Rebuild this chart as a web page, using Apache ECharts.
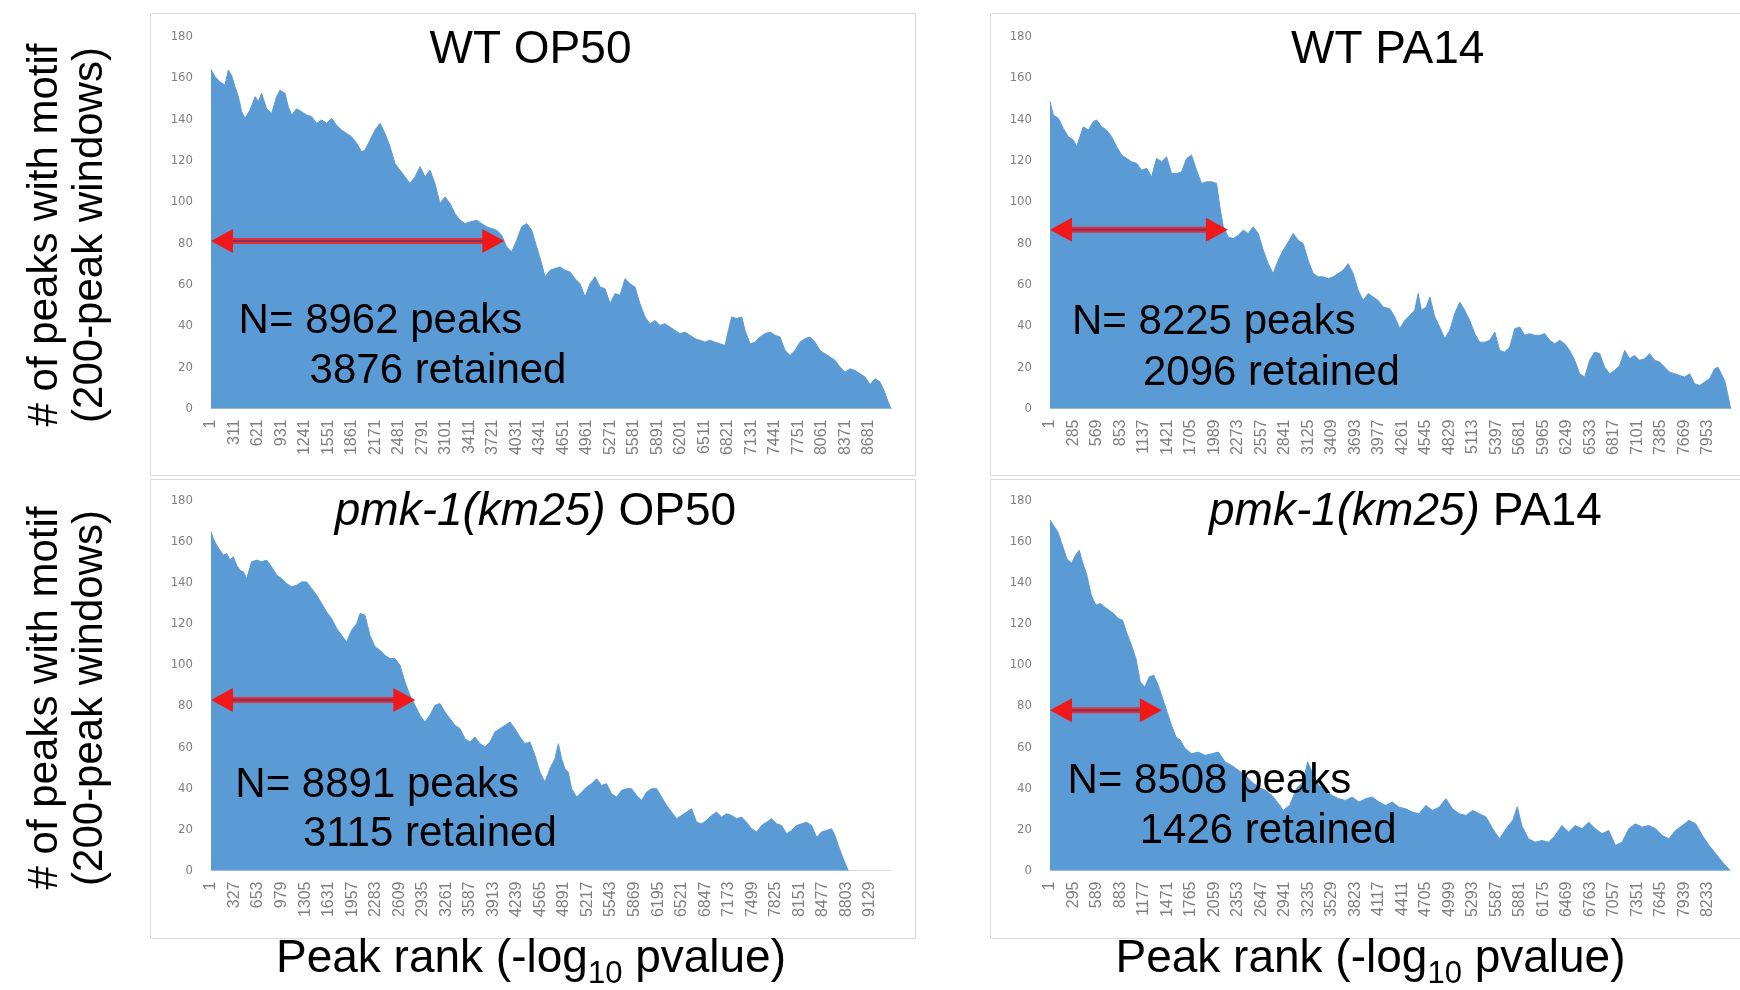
<!DOCTYPE html>
<html>
<head>
<meta charset="utf-8">
<script src="https://cdn.jsdelivr.net/npm/echarts@6/dist/echarts.min.js"></script>
<style>
html,body{margin:0;padding:0;background:#ffffff;}
#c{width:1740px;height:990px;}
</style>
</head>
<body>
<div id="c"></div>
<script>
// ---------------- data ----------------
const strains = ['WT', 'WT', 'pmk-1(km25)', 'pmk-1(km25)'];
const foods = ['OP50', 'PA14', 'OP50', 'PA14'];
const totalPeaks = [8962, 8225, 8891, 8508];
const retainedPeaks = [3876, 2096, 3115, 1426];
const labelStep = [310, 284, 326, 294];      // x tick labels: 1, 1+step, 1+2*step ...
const rankAxisMax = [8985, 8230, 9420, 8520];
const countTicks = [0, 20, 40, 60, 80, 100, 120, 140, 160, 180];
const arrowLevel = [81, 86.5, 83, 78];
const arrowEnd = [3870, 2150, 2830, 1400];

const wtOp50Rank = [0,53,119,185,229,273,317,361,405,449,515,581,625,668,734,800,866,910,976,1020,1064,1130,1196,1262,1328,1394,1460,1526,1592,1658,1724,1790,1856,1922,1988,2032,2098,2164,2230,2296,2362,2428,2494,2560,2626,2692,2758,2824,2890,2955,3021,3087,3153,3219,3285,3351,3417,3505,3571,3637,3703,3769,3835,3901,3967,4033,4099,4165,4231,4297,4363,4407,4473,4539,4605,4671,4737,4803,4869,4935,5001,5067,5133,5199,5265,5331,5397,5463,5529,5594,5660,5726,5792,5858,5924,5990,6056,6122,6188,6254,6320,6386,6452,6518,6584,6650,6716,6782,6826,6870,6936,7002,7046,7112,7178,7244,7310,7376,7442,7508,7574,7640,7706,7771,7837,7903,7969,8035,8101,8167,8233,8299,8365,8431,8496,8563,8629,8695,8761,8827,8880,8935,8970];
const wtOp50Count = [164,160.6,158,156.5,163.8,161,155.7,150.9,143.6,140.4,144.4,150.9,148.5,152.5,145,142.8,150.9,154,152.5,146,142,145,143.6,142,141.2,138,139.6,138,140.4,137,134.7,133.1,131.5,128.3,124.2,125,129.9,134.7,138,133.1,126.7,118.6,115.3,112.1,108.9,112.1,117,112.1,115.3,108.9,99.2,102.4,99.2,94.3,91.1,89.5,90.3,91.1,89.5,87.9,87.1,86.3,83.8,78.2,75.8,81.4,87.9,89.5,86.3,78.2,70.1,63.7,66.9,67.7,68.5,66.9,66.1,62.8,60.4,54,60.4,63.7,58.8,58,50.7,55.6,54.8,62.8,60.4,58.8,50.7,44.3,41,42.6,40.2,41,39.4,37.8,36.2,37,35.4,33.8,33,32.1,33,32.1,31.3,30.5,37.8,44.3,43.5,44.3,37.8,31.3,32.1,34.6,36.2,37,35.4,34.6,28.1,25.7,28.1,32.1,33.8,34.6,32.1,28.1,26.5,24.9,23.3,20,17.6,19.2,18.4,16.8,15.2,11.6,14.4,12.8,8.7,3.1,0];

const wtPa14Rank = [0,40,101,161,221,282,322,362,403,463,523,564,624,684,745,805,866,926,986,1047,1107,1168,1228,1288,1349,1409,1469,1530,1590,1651,1711,1771,1832,1892,1953,2013,2053,2094,2154,2214,2275,2335,2395,2456,2516,2577,2637,2697,2758,2818,2879,2939,2999,3060,3120,3181,3241,3301,3362,3422,3483,3543,3603,3664,3724,3784,3845,3905,3966,4026,4106,4167,4227,4288,4348,4408,4449,4489,4549,4590,4650,4710,4771,4831,4891,4952,5012,5073,5133,5193,5254,5314,5375,5435,5495,5556,5616,5677,5737,5797,5858,5918,5978,6039,6099,6160,6220,6280,6341,6401,6462,6522,6582,6643,6703,6764,6824,6884,6945,7005,7066,7126,7186,7247,7307,7367,7428,7488,7549,7609,7669,7730,7790,7851,7911,7971,8032,8072,8112,8153,8190,8225];
const wtPa14Count = [148.5,142,140.4,135.5,131.5,129.9,126.7,131.5,136.3,134.7,138.8,139.6,136.3,134.7,131.5,126.7,122.6,121,119.4,118.6,115.3,116.2,112.1,121,119.4,121.8,113.7,113.7,114.5,121,122.6,115.3,108.9,109.7,109.7,108.9,97.6,87.9,83,82.2,83.8,86.3,84.7,87.9,84.7,76.6,70.1,65.3,71.7,76.6,80.6,84.7,81.4,79.8,71.7,65.3,63.7,63.7,62.8,63.7,65.3,66.9,70.1,65.3,57.2,52.3,55.6,54,52.3,49.1,48.3,44.3,38.6,42.6,45,47.5,55.6,47.5,49.1,54,44.3,39.4,33.8,37.8,45.9,51.5,47.5,42.6,36.2,32.1,32.1,33,37,28.1,27.3,29.7,38.6,39.4,35.4,36.2,35.4,35.4,36.2,33,31.3,33,31.3,28.1,23.3,16.8,15.2,23.3,27.3,26.5,20,16.8,18.4,20.8,28.1,24.1,25.7,23.3,24.1,26.5,23.3,22.5,20,17.6,16.8,16,15.2,16.8,12,11.1,12.8,14.4,19.2,20,16.8,13.6,7.1,0];

const pmkOp50Rank = [0,32,78,125,171,217,263,309,356,402,448,494,563,633,702,771,840,910,979,1048,1117,1187,1256,1325,1394,1464,1533,1602,1671,1741,1810,1879,1948,2018,2064,2133,2202,2272,2341,2410,2479,2549,2618,2687,2756,2826,2895,2964,3033,3103,3172,3241,3310,3380,3449,3518,3587,3657,3726,3795,3864,3934,4003,4072,4141,4211,4280,4349,4418,4488,4557,4626,4695,4765,4811,4857,4903,4949,4995,5065,5134,5203,5272,5342,5411,5480,5549,5619,5688,5757,5826,5896,5965,6034,6103,6173,6242,6311,6380,6450,6519,6588,6657,6727,6796,6865,6935,7004,7073,7142,7212,7281,7350,7419,7489,7558,7627,7696,7766,7835,7904,7973,8043,8112,8181,8250,8320,8389,8458,8527,8597,8643,8689,8758,8828];
const pmkOp50Count = [164.8,161.5,158.3,155.8,153.4,154.2,151,152.6,148.5,146.1,145.3,142,150.2,151,150.2,151,147.7,143.7,142,139.6,138,138.8,140.4,140.4,137.2,133.9,129.9,125.8,122.6,117.7,114.4,111.2,116.9,120.1,125,124.2,114.4,108.8,107.1,104.7,103.1,103.1,99.8,91.7,85.2,80.4,75.5,72.2,75.5,80.4,81.2,77.1,73.9,70.6,69,64.1,62.5,64.9,61.7,60.1,62.5,67.4,69,70.6,72.2,69,64.9,61.7,62.5,56,47.9,43,49.5,54.4,61.7,54.4,49.5,47.9,39.8,35.7,38.1,40.6,42.2,44.6,41.4,42.2,37.3,35.7,39,39.8,39.8,36.5,34.1,38.1,39.8,39.8,35.7,31.7,28.4,25.2,26.8,28.4,30,23.5,22.7,24.4,26.8,28.4,26,27.6,26.8,25.2,26,23.5,20.3,18.7,21.9,23.5,25.2,22.7,21.9,17.9,19.5,21.9,22.7,23.5,21.9,16.2,18.7,19.5,20.3,17,12.2,5.7,0];

const pmkPa14Rank = [0,42,98,154,210,266,321,366,405,461,517,573,628,684,740,796,852,907,963,1019,1075,1130,1186,1242,1298,1354,1410,1465,1521,1577,1633,1689,1772,1856,1940,2023,2107,2191,2274,2358,2442,2525,2609,2693,2777,2860,2916,2999,3083,3167,3223,3279,3362,3446,3530,3613,3697,3781,3865,3948,4032,4116,4199,4283,4367,4450,4534,4618,4702,4785,4869,4953,5036,5120,5204,5287,5371,5455,5539,5623,5706,5790,5846,5902,5985,6069,6153,6237,6320,6404,6488,6571,6655,6739,6823,6906,6990,7074,7158,7241,7325,7409,7492,7576,7660,7743,7827,7911,7995,8078,8162,8246,8330,8413,8508];
const pmkPa14Count = [170.5,168,164.8,158.3,151.8,149.4,153.4,155.8,150.2,143.7,133.9,129.1,129.9,128.2,126.6,125,122.6,121.8,115.3,109.6,103.1,91.7,89.3,94.2,95,90.1,83.6,77.1,70.6,64.9,63.3,59.3,56.8,57.6,56,56.8,57.6,52.8,51.1,48.7,46.3,43,40.6,39,36.5,32.5,29.2,31.7,39.8,43,52.8,47.9,41.4,39,36.5,34.9,34.1,35.7,33.3,34.9,35.7,33.3,31.7,33.3,30.8,30,28.4,27.6,31.7,29.2,30.8,34.9,30,27.6,26.8,29.2,27.6,26,20.3,15.4,20.3,24.4,31,21.9,15.4,13.8,14.6,13.8,17,21.9,18.7,21.9,20.3,23.5,20.3,17.9,19.5,12.2,13.8,20.3,22.7,21.1,21.9,20.3,17,15.4,19.5,21.9,24.4,22.7,17,12.2,8.1,4.1,0];

const yTitleLines = ['# of peaks with motif', '(200-peak windows)'];
const xTitleParts = ['Peak rank (-log', '10', ' pvalue)'];

const ranks = [wtOp50Rank, wtPa14Rank, pmkOp50Rank, pmkPa14Rank];
const counts = [wtOp50Count, wtPa14Count, pmkOp50Count, pmkPa14Count];

// ---------------- layout / style ----------------
const FONT = "'Liberation Sans', Arial, Helvetica, sans-serif";
const NARROW = "'Liberation Sans Narrow', 'Arial Narrow', 'DejaVu Sans Condensed', 'Liberation Sans', sans-serif";
const BLUE = '#5b9bd5';
const GRAY = '#7f7f7f';

const layout = [
  {left: 211, top: 36.5, width: 681, height: 372, box: [150, 13, 765, 462], title: [530.5, 50], nPos: [238.6, 321], rPos: [309.6, 371]},
  {left: 1050, top: 36.5, width: 681, height: 372, box: [990, 13, 760, 462], title: [1387.7, 50], nPos: [1072, 322.4], rPos: [1143, 373]},
  {left: 211, top: 500.5, width: 680, height: 370, box: [150, 479, 765, 459], title: [535.4, 512.7], nPos: [235.3, 785.7], rPos: [303, 834.5]},
  {left: 1050, top: 500.5, width: 681, height: 370, box: [990, 479, 760, 459], title: [1405.4, 512.7], nPos: [1067.5, 781.2], rPos: [1139.7, 831]}
];

const chart = echarts.init(document.getElementById('c'), null, {renderer: 'canvas', width: 1740, height: 990});

const grids = [], xAxes = [], yAxes = [], series = [];
layout.forEach((L, i) => {
  grids.push({left: L.left, top: L.top, width: L.width, height: L.height, containLabel: false, outerBoundsMode: 'none', show: false});
  const step = labelStep[i];
  xAxes.push({
    gridIndex: i, type: 'value', min: 0, max: rankAxisMax[i], interval: step,
    axisLine: {show: true, onZero: false, lineStyle: {color: '#d9d9d9', width: 1}},
    axisTick: {show: false}, splitLine: {show: false},
    axisLabel: {
      rotate: 90, fontSize: 16, color: GRAY, fontFamily: FONT, margin: 11,
      showMinLabel: true, showMaxLabel: true, hideOverlap: false,
      formatter: v => (Math.round(v) % step === 0 ? String(Math.round(v) + 1) : '')
    }
  });
  yAxes.push({
    gridIndex: i, type: 'value', min: countTicks[0], max: countTicks[countTicks.length - 1],
    interval: countTicks[1] - countTicks[0],
    axisLine: {show: false}, axisTick: {show: false}, splitLine: {show: false},
    axisLabel: {fontSize: 13, color: GRAY, fontFamily: NARROW, margin: 18}
  });
  series.push({
    type: 'line', xAxisIndex: i, yAxisIndex: i,
    data: ranks[i].map((r, j) => [r, counts[i][j]]),
    showSymbol: false, symbol: 'none', smooth: false, silent: true,
    lineStyle: {color: BLUE, width: 1},
    areaStyle: {color: BLUE, opacity: 1},
    itemStyle: {color: BLUE},
    z: 2
  });
});

chart.setOption({
  animation: false,
  backgroundColor: '#ffffff',
  grid: grids, xAxis: xAxes, yAxis: yAxes, series: series
});

// ---------------- annotations ----------------
const g = [];
function txt(x, y, text, size, extra) {
  return Object.assign({
    type: 'text', x: x, y: y, z: 100,
    style: Object.assign({
      text: text, fontSize: size, fontFamily: FONT, fill: '#000000',
      align: 'center', verticalAlign: 'middle', textAlign: 'center', textVerticalAlign: 'middle'
    }, extra && extra.style ? extra.style : {})
  }, extra && extra.el ? extra.el : {});
}

layout.forEach((L, i) => {
  g.push({type: 'rect', z: 0, shape: {x: L.box[0] + 0.5, y: L.box[1] + 0.5, width: L.box[2], height: L.box[3]},
          style: {fill: 'none', stroke: '#d9d9d9', lineWidth: 1}});
  const italic = strains[i] !== 'WT';
  const tText = italic ? `{i|${strains[i]}}{n| ${foods[i]}}` : `{n|${strains[i]} ${foods[i]}}`;
  g.push(txt(L.title[0], L.title[1], tText, 46, {style: {rich: {
    i: {fontSize: 46, fontFamily: FONT, fontStyle: 'italic', fill: '#000'},
    n: {fontSize: 46, fontFamily: FONT, fill: '#000'}
  }}}));
  g.push(txt(L.nPos[0], L.nPos[1], `N= ${totalPeaks[i]} peaks`, 42, {style: {align: 'left', textAlign: 'left'}}));
  g.push(txt(L.rPos[0], L.rPos[1], `${retainedPeaks[i]} retained`, 42, {style: {align: 'left', textAlign: 'left'}}));

  // double-headed arrow, anchored through the axis scales
  const a = chart.convertToPixel({gridIndex: i}, [0, arrowLevel[i]]);
  const b = chart.convertToPixel({gridIndex: i}, [arrowEnd[i], arrowLevel[i]]);
  const HL = 22, HH = 12;
  g.push({type: 'line', z: 110, shape: {x1: a[0] + HL - 2, y1: a[1], x2: b[0] - HL + 2, y2: b[1]},
          style: {stroke: '#d9333f', lineWidth: 6}});
  g.push({type: 'line', z: 111, shape: {x1: a[0] + HL - 2, y1: a[1], x2: b[0] - HL + 2, y2: b[1]},
          style: {stroke: '#8c2e52', lineWidth: 2}});
  g.push({type: 'polygon', z: 112, shape: {points: [[a[0], a[1]], [a[0] + HL, a[1] - HH], [a[0] + HL, a[1] + HH]]},
          style: {fill: '#f01818'}});
  g.push({type: 'polygon', z: 112, shape: {points: [[b[0], b[1]], [b[0] - HL, b[1] - HH], [b[0] - HL, b[1] + HH]]},
          style: {fill: '#f01818'}});
});

// y-axis titles (rotated)
[[45.5, 235], [45.5, 698]].forEach(p => {
  g.push(txt(p[0], p[1], yTitleLines[0], 42, {el: {rotation: Math.PI / 2}}));
  g.push(txt(p[0] + 45, p[1], yTitleLines[1], 42, {el: {rotation: Math.PI / 2}}));
});

// x-axis titles with subscript
const xt = `{a|${xTitleParts[0]}}{s|${xTitleParts[1]}}{a|${xTitleParts[2]}}`;
const xRich = {
  a: {fontSize: 46, fontFamily: FONT, lineHeight: 61, verticalAlign: 'middle', fill: '#000'},
  s: {fontSize: 31, fontFamily: FONT, lineHeight: 31, verticalAlign: 'bottom', fill: '#000'}
};
g.push(txt(531, 959, xt, 46, {style: {rich: xRich}}));
g.push(txt(1370.5, 959, xt, 46, {style: {rich: xRich}}));

chart.setOption({graphic: {elements: g}});
</script>
</body>
</html>
